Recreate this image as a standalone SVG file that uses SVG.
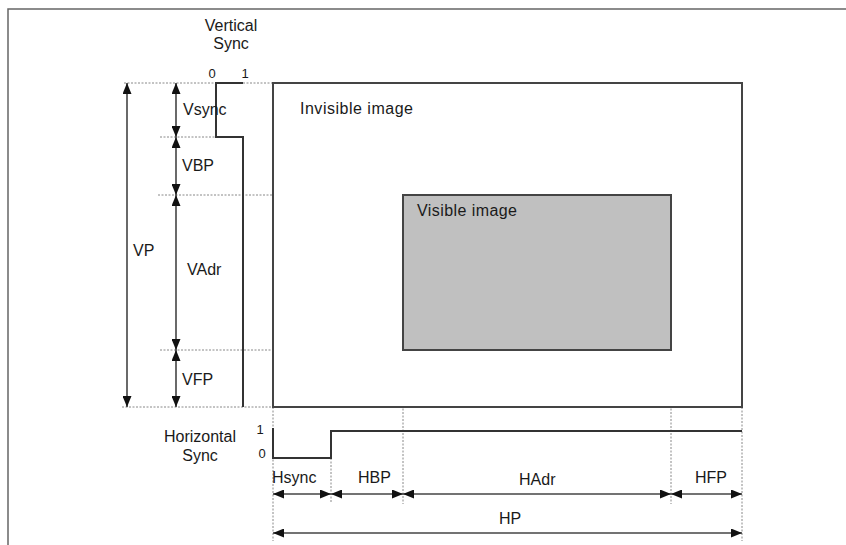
<svg xmlns="http://www.w3.org/2000/svg" width="846" height="545" viewBox="0 0 846 545">
<style>
text{font-family:"Liberation Sans",Arial,sans-serif;fill:#1a1a1a;font-size:16px}
.sm{font-size:13px}
.frame{fill:none;stroke:#666;stroke-width:1.5}
.box{stroke:#444;stroke-width:2}
.wave{fill:none;stroke:#333;stroke-width:2}
.guide{fill:none;stroke:#888;stroke-width:1;stroke-dasharray:2 1.5}
.arr{fill:none;stroke:#444;stroke-width:1.6;marker-start:url(#ah);marker-end:url(#ah)}
</style>
<defs>
<marker id="ah" markerUnits="userSpaceOnUse" markerWidth="11" markerHeight="9" refX="11" refY="4.5" orient="auto-start-reverse" viewBox="0 0 11 9">
<path d="M0,0 L11,4.5 L0,9 z" fill="#111"/>
</marker>
</defs>
<rect width="846" height="545" fill="#fff"/>
<g id="frame"><path class="frame" d="M8,545 V9 H846"/></g>

<g id="guides">
<path class="guide" d="M124,83 H273 M160,137 H216 M158,195 H403 M160,350 H403 M122,407 H273"/>
<path class="guide" d="M273,407 V541 M331,458 V502 M403,349 V504 M671,349 V504 M742,407 V541"/>
</g>

<g id="invisible-image">
<rect class="box" x="273" y="83" width="469" height="324" fill="#fff"/>
<text x="300" y="114" textLength="113">Invisible image</text>
</g>

<g id="visible-image">
<rect class="box" x="403" y="195" width="268" height="155" fill="#c0c0c0"/>
<text x="417" y="216" textLength="100">Visible image</text>
</g>

<g id="vertical-sync">
<text x="231" y="31" text-anchor="middle">Vertical</text>
<text x="231" y="49" text-anchor="middle">Sync</text>
<text class="sm" x="212" y="78" text-anchor="middle">0</text>
<text class="sm" x="245" y="78" text-anchor="middle">1</text>
<path class="wave" d="M243,83 H216 V137 H243 V407"/>
</g>

<g id="horizontal-sync">
<text x="200" y="442" text-anchor="middle">Horizontal</text>
<text x="200" y="461" text-anchor="middle">Sync</text>
<text class="sm" x="260" y="434" text-anchor="middle">1</text>
<text class="sm" x="262" y="458" text-anchor="middle">0</text>
<path class="wave" d="M273,428 V458 H331 V431 H742"/>
</g>

<g id="connectors">
<line class="arr" x1="127" y1="83" x2="127" y2="407"/>
<line class="arr" x1="176" y1="83" x2="176" y2="137"/>
<line class="arr" x1="176" y1="137" x2="176" y2="195"/>
<line class="arr" x1="176" y1="195" x2="176" y2="350"/>
<line class="arr" x1="176" y1="350" x2="176" y2="407"/>
<line class="arr" x1="273" y1="494" x2="331" y2="494"/>
<line class="arr" x1="331" y1="494" x2="403" y2="494"/>
<line class="arr" x1="403" y1="494" x2="671" y2="494"/>
<line class="arr" x1="671" y1="494" x2="742" y2="494"/>
<line class="arr" x1="273" y1="533" x2="742" y2="533"/>
</g>

<g id="labels">
<text x="183" y="115">Vsync</text>
<text x="182" y="171">VBP</text>
<text x="133" y="256">VP</text>
<text x="187" y="275">VAdr</text>
<text x="182" y="385">VFP</text>
<text x="272" y="483">Hsync</text>
<text x="358" y="483">HBP</text>
<text x="519" y="485">HAdr</text>
<text x="695" y="483">HFP</text>
<text x="499" y="524">HP</text>
</g>
</svg>
